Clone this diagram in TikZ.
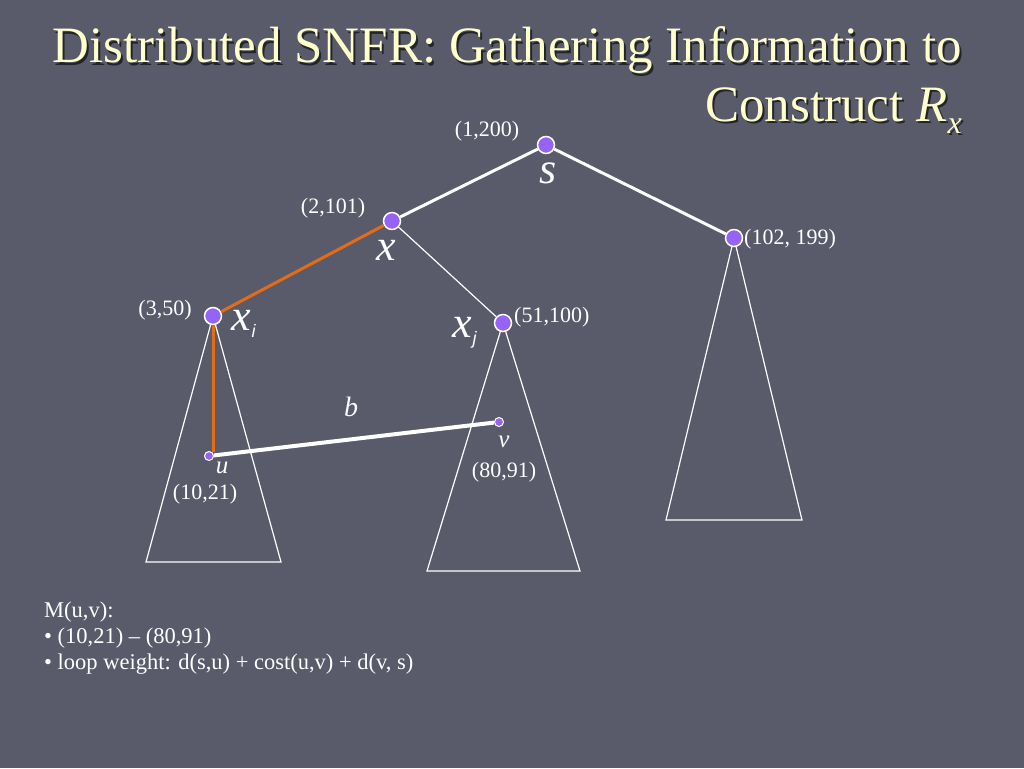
\documentclass[tikz,border=0pt]{standalone}
\usepackage{fontspec}
\setmainfont{Liberation Serif}
\newfontfamily\sansf{Liberation Sans}
\newfontfamily\serifT[Ligatures=TeX]{Liberation Serif}
\definecolor{bg}{RGB}{89,91,107}
\definecolor{nodefill}{RGB}{150,100,245}
\definecolor{orangeline}{RGB}{228,108,24}
\definecolor{titlecol}{RGB}{255,255,204}
\newcommand{\titleRx}{Construct \textit{R}\raisebox{-0.25em}{\fontsize{32}{34}\selectfont\textit{x}}}
\newcommand{\subvar}[1]{x\kern1pt\raisebox{-0.18em}{\sansf\itshape\fontsize{18}{20}\selectfont #1}}
\begin{document}
\begin{tikzpicture}[x=1pt,y=-1pt,
  bignode/.style={circle, fill=nodefill, draw=white, line width=1.5pt, minimum size=17pt, inner sep=0pt},
  smallnode/.style={circle, fill=nodefill, draw=white, line width=1pt, minimum size=9pt, inner sep=0pt},
  lbl/.style={text=white, font=\serifT\fontsize{22}{24}\selectfont, inner sep=0pt},
  var/.style={text=white, font=\serifT\fontsize{44}{48}\selectfont\itshape, inner sep=0pt},
  titletext/.style={font=\serifT\fontsize{51}{56}\selectfont, inner sep=0pt, anchor=base east},
  body/.style={text=white, font=\serifT\fontsize{22.5}{24}\selectfont, inner sep=0pt, anchor=base west},
  thickedge/.style={draw=white, line width=3pt},
  thinedge/.style={draw=white, line width=1.2pt},
  hledge/.style={draw=orangeline, line width=3pt},
  tri/.style={draw=white, line width=1.2pt},
]
\fill[bg] (0,0) rectangle (1024,768);
\useasboundingbox (0,0) rectangle (1024,768);

% title with shadow
\node[titletext, text=black, opacity=0.6] at (964,65) {Distributed SNFR: Gathering Information to};
\node[titletext, text=titlecol] (t1) at (962,63) {Distributed SNFR: Gathering Information to};
\node[titletext, text=black, opacity=0.6] at (964,123) {\titleRx};
\node[titletext, text=titlecol] (t2) at (962,121) {\titleRx};

% tree nodes
\node[bignode] (s) at (546,145) {};
\node[bignode] (x) at (392,221) {};
\node[bignode] (r) at (734,238) {};
\node[bignode] (xi) at (213,316) {};
\node[bignode] (xj) at (503,323) {};
\node[smallnode] (u) at (209,456) {};
\node[smallnode] (v) at (499,422) {};

% triangle corners
\coordinate (L1) at (146,562);
\coordinate (L2) at (281,562);
\coordinate (M1) at (427,571);
\coordinate (M2) at (580,571);
\coordinate (R1) at (666,520);
\coordinate (R2) at (802,520);

% triangles
\draw[tri] (xi) -- (L1) -- (L2) -- (xi);
\draw[tri] (xj) -- (M1) -- (M2) -- (xj);
\draw[tri] (r) -- (R1) -- (R2) -- (r);

% edges
\draw[thickedge] (s) -- (x);
\draw[thickedge] (s) -- (r);
\draw[thinedge] (x) -- (xj);
\draw[hledge] (x) -- (xi);
\coordinate (ucorner) at (213,452);
\draw[hledge] (xi) -- (ucorner);
\draw[draw=white, line width=4pt] (u) -- (v);

% labels
\node[lbl] (ls) at (487,131) {(1,200)};
\node[var] (vs) at (548,173) {s};
\node[lbl] (lx) at (333,208) {(2,101)};
\node[var] (vx) at (386,250) {x};
\node[lbl, anchor=west] (lr) at (744,239) {(102, 199)};
\node[lbl] (lxi) at (165,310) {(3,50)};
\node[var, anchor=base west] (vxi) at (231,330) {\subvar{i}};
\node[lbl, anchor=west] (lxj) at (514,317) {(51,100)};
\node[var, anchor=base west] (vxj) at (452,337) {\subvar{j}};
\node[var, font=\serifT\fontsize{28}{30}\selectfont\itshape] (vb) at (351,407) {b};
\node[var, font=\serifT\fontsize{25}{26}\selectfont\itshape] (vu) at (222,468) {u};
\node[lbl] (lu) at (205,494) {(10,21)};
\node[var, font=\serifT\fontsize{25}{26}\selectfont\itshape] (vv) at (504,442) {v};
\node[lbl] (lv) at (504,472) {(80,91)};

% bottom text
\node[body] (m1) at (44,617) {M(u,v):};
\node[body] (m2) at (44,643) {\textbullet\ (10,21) \textendash\ (80,91)};
\node[body] (m3) at (44,669) {\textbullet\ loop weight: d(s,u) + cost(u,v) + d(v, s)};
\end{tikzpicture}
\end{document}
